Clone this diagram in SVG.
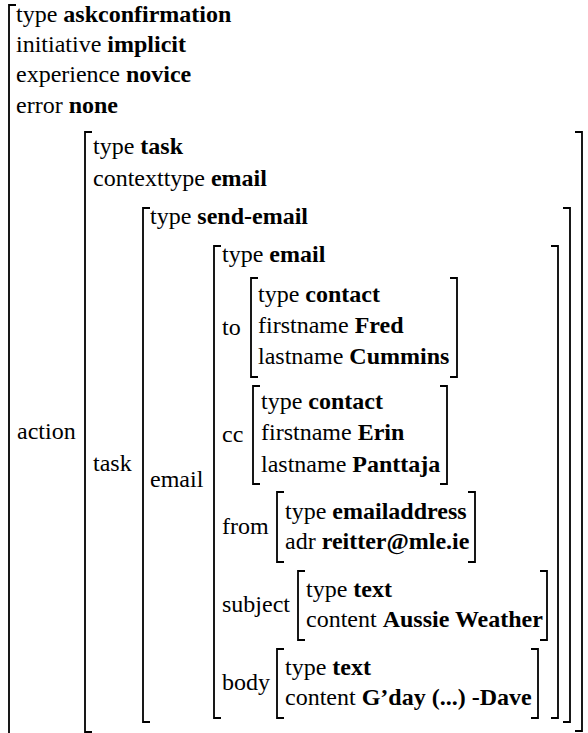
<svg xmlns="http://www.w3.org/2000/svg" width="588" height="733" viewBox="0 0 588 733">
<style>
text{font-family:'Liberation Serif','Times New Roman','DejaVu Serif',serif;font-size:24px;fill:#000}
.b{font-weight:bold}
.br{fill:none;stroke:#000;stroke-width:1.8}
</style>
<rect width="588" height="733" fill="#fff"/>
<g font-family="Liberation Serif, Times New Roman, DejaVu Serif, serif" font-size="24">
<g id="outer">
<path class="br" d="M16,5 H9 V745"/>
<text x="16" y="22">type <tspan class="b">askconfirmation</tspan></text>
<text x="16" y="52">initiative <tspan class="b">implicit</tspan></text>
<text x="16" y="82">experience <tspan class="b">novice</tspan></text>
<text x="16" y="113">error <tspan class="b">none</tspan></text>
<text x="17" y="439">action</text>
</g>
<g id="action">
<path class="br" d="M92,132 H85 V732 H92"/>
<path class="br" d="M575,132 H582 V731 H575"/>
<text x="93" y="154">type <tspan class="b">task</tspan></text>
<text x="93" y="186">contexttype <tspan class="b">email</tspan></text>
<text x="93" y="471">task</text>
</g>
<g id="task">
<path class="br" d="M150,208 H143 V722 H150"/>
<path class="br" d="M563,208 H570 V722 H563"/>
<text x="150" y="224">type <tspan class="b">send-email</tspan></text>
<text x="150" y="487">email</text>
</g>
<g id="email">
<path class="br" d="M221,246 H214 V718 H221"/>
<path class="br" d="M551,246 H558 V718 H551"/>
<text x="222" y="262">type <tspan class="b">email</tspan></text>
<text x="222" y="335">to</text>
<text x="222" y="442">cc</text>
<text x="222" y="534">from</text>
<text x="222" y="612">subject</text>
<text x="222" y="690">body</text>
</g>
<g id="to">
<path class="br" d="M258,278 H251 V377 H258"/>
<path class="br" d="M450,278 H457 V377 H450"/>
<text x="258" y="302">type <tspan class="b">contact</tspan></text>
<text x="258" y="333">firstname <tspan class="b">Fred</tspan></text>
<text x="258" y="364">lastname <tspan class="b">Cummins</tspan></text>
</g>
<g id="cc">
<path class="br" d="M260,386 H253 V484 H260"/>
<path class="br" d="M440,386 H447 V484 H440"/>
<text x="261" y="409">type <tspan class="b">contact</tspan></text>
<text x="261" y="440">firstname <tspan class="b">Erin</tspan></text>
<text x="261" y="472">lastname <tspan class="b">Panttaja</tspan></text>
</g>
<g id="from">
<path class="br" d="M284,492 H277 V562 H284"/>
<path class="br" d="M468,492 H475 V562 H468"/>
<text x="285" y="519">type <tspan class="b">emailaddress</tspan></text>
<text x="285" y="549">adr <tspan class="b">reitter@mle.ie</tspan></text>
</g>
<g id="subject">
<path class="br" d="M305,571 H298 V640 H305"/>
<path class="br" d="M540,571 H547 V640 H540"/>
<text x="306" y="597">type <tspan class="b">text</tspan></text>
<text x="306" y="627">content <tspan class="b">Aussie Weather</tspan></text>
</g>
<g id="body">
<path class="br" d="M284,649 H277 V718 H284"/>
<path class="br" d="M531,649 H538 V718 H531"/>
<text x="285" y="675">type <tspan class="b">text</tspan></text>
<text x="285" y="705">content <tspan class="b">G’day (...) -Dave</tspan></text>
</g>
</g>
<g id="connectors"></g>
</svg>
